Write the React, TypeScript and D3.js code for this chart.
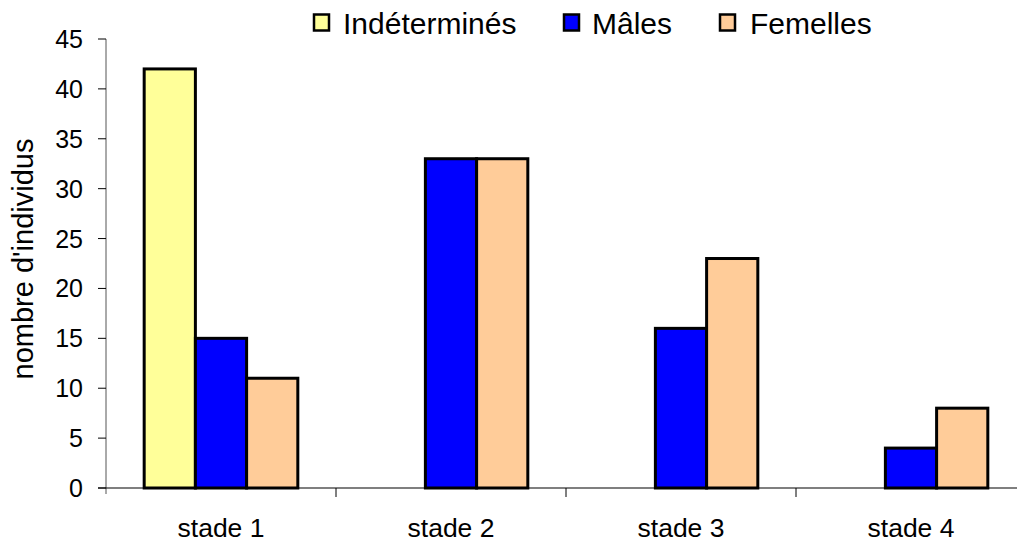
import React from "react";
import * as d3 from "d3";

const categories = ["stade 1", "stade 2", "stade 3", "stade 4"];
const seriesNames = ["Indéterminés", "Mâles", "Femelles"];
const indetermines = [42, 0, 0, 0];
const males = [15, 33, 16, 4];
const femelles = [11, 33, 23, 8];
const yTicks = [0, 5, 10, 15, 20, 25, 30, 35, 40, 45];
const colors = ["#FFFF99", "#0000FF", "#FFCC99"];

export default function App() {
  const W = 1017, H = 543;
  const x0 = 106, x1 = 1026, yTop = 39, yBot = 488;
  const x = d3.scaleBand<string>().domain(categories).range([x0, x1]).paddingInner(0).paddingOuter(0);
  const y = d3.scaleLinear().domain([0, 45]).range([yBot, yTop]);
  const bw = x.bandwidth();
  const groupPad = bw * 0.166;
  const inner = d3.scaleBand<string>().domain(seriesNames).range([groupPad, bw - groupPad]);
  const data = [indetermines, males, femelles];
  const font = "'Liberation Sans', Arial, sans-serif";
  const legendX = [314, 564, 720];
  const legendTextX = [343, 592, 750];
  return (
    <svg width={W} height={H} style={{ position: "absolute", left: 0, top: 0, background: "#fff" }} fontFamily={font}>
      {data.map((vals, si) =>
        vals.map((v, ci) =>
          v > 0 ? (
            <rect key={`${si}-${ci}`} x={(x(categories[ci]) as number) + (inner(seriesNames[si]) as number)}
              y={y(v)} width={inner.bandwidth()} height={yBot - y(v)}
              fill={colors[si]} stroke="#000" strokeWidth={3} />
          ) : null
        )
      )}
      <line x1={x0} x2={x0} y1={yTop} y2={yBot + 6} stroke="#555" strokeWidth={1} />
      <line x1={x0 - 8} x2={W} y1={yBot} y2={yBot} stroke="#000" strokeWidth={1.2} />
      {yTicks.map(t => (
        <g key={t}>
          <line x1={x0 - 8} x2={x0} y1={y(t)} y2={y(t)} stroke="#000" />
          <text x={83} y={y(t)} dy="0.36em" textAnchor="end" fontSize={25}>{t}</text>
        </g>
      ))}
      {categories.slice(1).map(c => (
        <line key={c} x1={x(c)} x2={x(c)} y1={yBot} y2={yBot + 9} stroke="#000" />
      ))}
      {categories.map(c => (
        <text key={c} x={(x(c) as number) + bw / 2} y={537} textAnchor="middle" fontSize={26.5}>{c}</text>
      ))}
      <text transform={`translate(33,259) rotate(-90)`} textAnchor="middle" fontSize={29}>nombre d'individus</text>
      {seriesNames.map((s, i) => (
        <g key={s}>
          <rect x={legendX[i]} y={14.5} width={15} height={16} fill={colors[i]} stroke="#000" strokeWidth={2.5} />
          <text x={legendTextX[i]} y={34} fontSize={30}>{s}</text>
        </g>
      ))}
    </svg>
  );
}
